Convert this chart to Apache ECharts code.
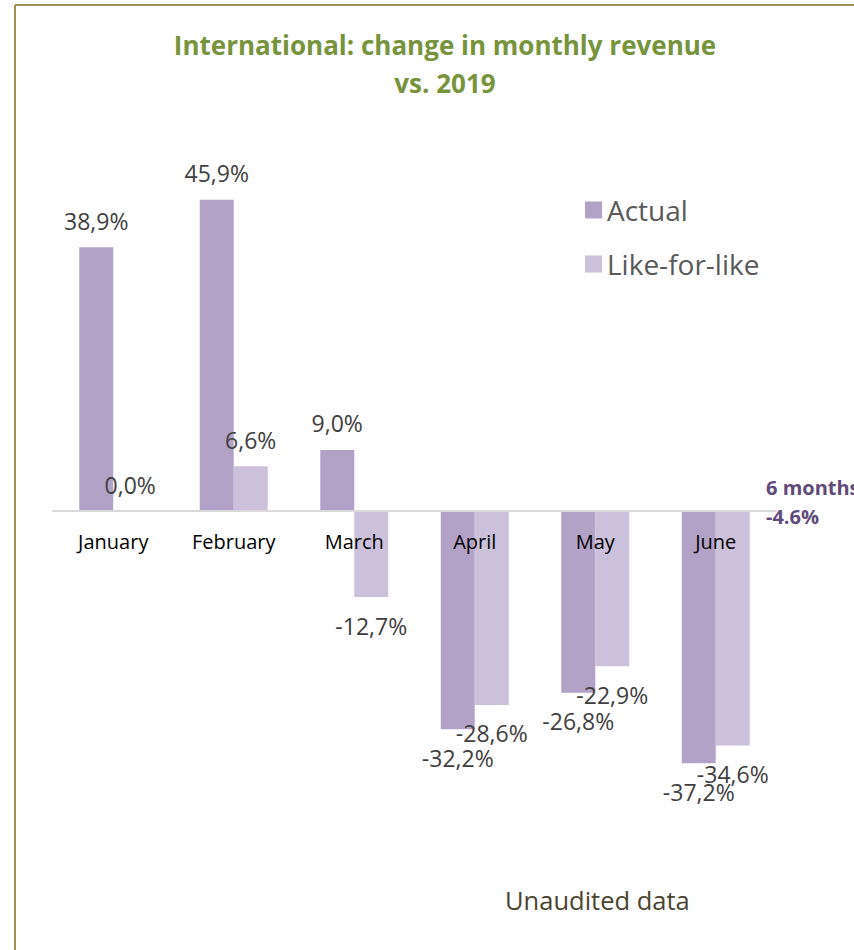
<!DOCTYPE html>
<html>
<head>
<meta charset="utf-8">
<script src="https://cdn.jsdelivr.net/npm/echarts@6/dist/echarts.min.js"></script>
<style>
  html, body { margin: 0; padding: 0; background: #fff; }
  #chart { width: 854px; height: 950px; }
</style>
</head>
<body>
<div id="chart"></div>
<script>
const months = ["January", "February", "March", "April", "May", "June"];
const actual = [38.9, 45.9, 9.0, -32.2, -26.8, -37.2];
const likeForLike = [0.0, 6.6, -12.7, -28.6, -22.9, -34.6];
const sixMonths = "-4.6%";

const fmt = (v) => v.toFixed(1).replace(".", ",") + "%";

// negative bars get their label underneath
function withLabels(values) {
  return values.map((v) => ({
    value: v,
    label: v < 0
      ? { position: "bottom", distance: 17 }
      : { position: "top", distance: 15 },
  }));
}

const chart = echarts.init(document.getElementById("chart"), null, { renderer: "svg" });

const labelStyle = {
  show: true,
  fontFamily: "Open Sans",
  fontSize: 23,
  color: "#404040",
  formatter: (p) => fmt(p.value),
};

// grid: zero sits at y=511, grid bottom at 850
const gridTop = 172, gridHeight = 678;

chart.setOption({
  animation: false,
  title: {
    text: "International: change in monthly revenue\nvs. 2019",
    left: 440,
    top: 21,
    textAlign: "center",
    textStyle: {
      fontFamily: "Open Sans",
      fontWeight: "bold",
      fontSize: 26,
      lineHeight: 38,
      color: "#77933c",
    },
  },
  legend: {
    orient: "vertical",
    left: 580,
    top: 190,
    itemWidth: 17,
    itemHeight: 17,
    itemGap: 24,
    icon: "rect",
    textStyle: {
      fontFamily: "Open Sans",
      fontSize: 28,
      lineHeight: 30,
      color: "#595959",
    },
    data: ["Actual", "Like-for-like"],
  },
  grid: { left: 53, width: 723, top: gridTop, height: gridHeight },
  xAxis: {
    type: "category",
    data: months,
    z: 5,
    // pull the whole axis (line + labels) up to the zero level
    offset: -(gridTop + gridHeight - 511),
    axisLine: { onZero: false, lineStyle: { color: "#d9d9d9", width: 2 } },
    axisTick: { show: false },
    axisLabel: {
      fontFamily: "Open Sans",
      fontSize: 20,
      color: "#000",
      margin: 20,
    },
  },
  yAxis: {
    type: "value",
    min: -50,
    max: 50,
    show: false,
    splitLine: { show: false },
  },
  series: [
    {
      name: "Actual",
      type: "bar",
      barWidth: 34,
      barGap: "0%",
      itemStyle: { color: "#b3a2c7" },
      label: labelStyle,
      data: withLabels(actual),
    },
    {
      name: "Like-for-like",
      type: "bar",
      barWidth: 34,
      barGap: "0%",
      itemStyle: { color: "#ccc1da" },
      label: labelStyle,
      data: withLabels(likeForLike),
    },
  ],
  graphic: [
    // frame: top and left rules
    { type: "line", shape: { x1: 15, y1: 5, x2: 854, y2: 5 }, style: { stroke: "#9c9058", lineWidth: 2 } },
    { type: "line", shape: { x1: 15, y1: 5, x2: 15, y2: 950 }, style: { stroke: "#9c9058", lineWidth: 2 } },
    {
      type: "text",
      left: 766,
      top: 473,
      style: {
        text: "6 months\n" + sixMonths,
        fontFamily: "Open Sans",
        fontWeight: "bold",
        fontSize: 20,
        lineHeight: 29,
        fill: "#604a7b",
      },
    },
    {
      type: "text",
      left: 505,
      top: 887,
      style: {
        text: "Unaudited data",
        fontFamily: "Open Sans",
        fontSize: 25.5,
        fill: "#4a4530",
      },
    },
  ],
});
</script>
</body>
</html>
